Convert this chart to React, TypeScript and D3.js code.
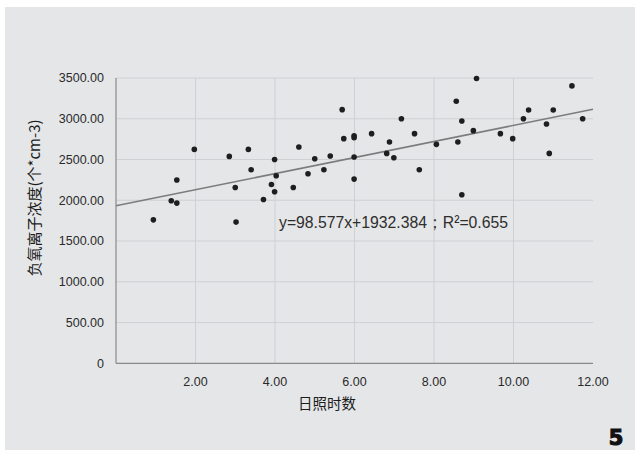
import React, { useEffect, useRef } from "react";
import * as d3 from "d3";

// 日照时数 (x) vs 负氧离子浓度 (y)
const sunHours = [
  0.94, 1.39, 1.53, 1.53, 1.97, 2.85, 3.0, 3.02, 3.33, 3.4, 3.71, 3.91, 3.99, 3.99, 4.03,
  4.46, 4.6, 4.83, 5.0, 5.23, 5.39, 5.69, 5.73, 5.99, 5.99, 5.99, 5.99, 6.43, 6.81, 6.88,
  6.99, 7.18, 7.51, 7.63, 8.06, 8.56, 8.6, 8.7, 8.7, 8.99, 9.07, 9.67, 9.98, 10.25, 10.38,
  10.83, 10.9, 11.0, 11.47, 11.74,
];
const ionConc = [
  1760, 1994, 1965, 2248, 2624, 2538, 2157, 1732, 2624, 2375, 2010, 2194, 2501, 2104, 2301,
  2157, 2653, 2326, 2510, 2375, 2543, 3112, 2756, 2792, 2768, 2531, 2260, 2817, 2575, 2715,
  2522, 3001, 2817, 2375, 2686, 3214, 2715, 2973, 2068, 2854, 3493, 2817, 2756, 3001, 3108,
  2936, 2575, 3108, 3403, 3001,
];

const xTicks = [2, 4, 6, 8, 10, 12];
const yTicks = [0, 500, 1000, 1500, 2000, 2500, 3000, 3500];

const slope = 98.577;
const intercept = 1932.384;
const equation = "y=98.577x+1932.384；R²=0.655";

export default function App() {
  const ref = useRef<SVGSVGElement>(null);

  useEffect(() => {
    const svg = d3.select(ref.current);
    svg.selectAll("*").remove();

    // grey scanned page
    svg.append("rect").attr("x", 5).attr("y", 7).attr("width", 630).attr("height", 443).attr("fill", "#e5e6e8");

    const x = d3.scaleLinear().domain([0, 12]).range([116, 593]);
    const y = d3.scaleLinear().domain([0, 3500]).range([363.3, 78]);

    const g = svg.append("g");

    // gridlines
    g.selectAll(".hg").data(yTicks.filter(t => t > 0)).join("line")
      .attr("x1", x(0)).attr("x2", x(12))
      .attr("y1", d => y(d)).attr("y2", d => y(d))
      .attr("stroke", "#cfd0d3").attr("stroke-width", 1);
    g.selectAll(".vg").data(xTicks.filter(t => t < 12)).join("line")
      .attr("x1", d => x(d)).attr("x2", d => x(d))
      .attr("y1", y(0)).attr("y2", y(3500))
      .attr("stroke", "#cfd0d3").attr("stroke-width", 1);

    // axes
    g.append("line").attr("x1", x(0)).attr("x2", x(0)).attr("y1", y(0)).attr("y2", y(3500))
      .attr("stroke", "#8a8a8c").attr("stroke-width", 1.2);
    g.append("line").attr("x1", x(0)).attr("x2", x(12)).attr("y1", y(0)).attr("y2", y(0))
      .attr("stroke", "#8a8a8c").attr("stroke-width", 1.2);

    // tick labels
    g.selectAll(".yt").data(yTicks).join("text")
      .attr("x", 104).attr("y", d => y(d)).attr("dy", "0.35em")
      .attr("text-anchor", "end")
      .attr("font-family", "Liberation Sans, Arial, sans-serif").attr("font-size", 12.5)
      .attr("fill", "#2a2a2a")
      .text(d => (d === 0 ? "0" : d.toFixed(2)));
    g.selectAll(".xt").data(xTicks).join("text")
      .attr("x", d => x(d)).attr("y", 386)
      .attr("text-anchor", "middle")
      .attr("font-family", "Liberation Sans, Arial, sans-serif").attr("font-size", 12.5)
      .attr("fill", "#2a2a2a")
      .text(d => d.toFixed(2));

    // axis titles
    g.append("text")
      .attr("transform", "translate(35,198) rotate(-90)")
      .attr("text-anchor", "middle").attr("dy", "0.35em")
      .attr("font-family", "Noto Sans CJK SC, sans-serif").attr("font-size", 15)
      .attr("fill", "#1c1c1c")
      .text("负氧离子浓度(个*cm-3)");
    g.append("text")
      .attr("x", 327).attr("y", 404).attr("dy", "0.35em")
      .attr("text-anchor", "middle")
      .attr("font-family", "Noto Sans CJK SC, sans-serif").attr("font-size", 14.5)
      .attr("fill", "#1c1c1c")
      .text("日照时数");

    // trend line
    const line = d3.line<number>().x(d => x(d)).y(d => y(slope * d + intercept));
    g.append("path").datum([0, 12]).attr("d", line)
      .attr("fill", "none").attr("stroke", "#7c7c7e").attr("stroke-width", 1.5);

    // points
    g.selectAll(".pt").data(sunHours.map((h, i) => [h, ionConc[i]])).join("circle")
      .attr("cx", d => x(d[0])).attr("cy", d => y(d[1])).attr("r", 2.8)
      .attr("fill", "#1e1e1e");

    // equation
    g.append("text")
      .attr("x", 279).attr("y", 228)
      .attr("font-family", "Liberation Sans, Arial, sans-serif").attr("font-size", 17)
      .attr("textLength", 229).attr("lengthAdjust", "spacingAndGlyphs")
      .attr("fill", "#2e2e2e")
      .text(equation);

    // page number
    svg.append("text")
      .attr("x", 616).attr("y", 445).attr("text-anchor", "middle")
      .attr("font-family", "DejaVu Sans, sans-serif").attr("font-weight", 900).attr("font-size", 21)
      .attr("fill", "#111").attr("stroke", "#111").attr("stroke-width", 1.2)
      .text("5");
  }, []);

  return (
    <svg ref={ref} width={635} height={450}
      style={{ position: "absolute", left: 0, top: 0, background: "#fff" }} />
  );
}
